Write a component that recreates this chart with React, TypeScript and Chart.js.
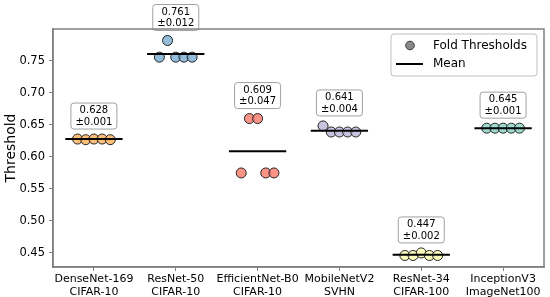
import React, { useEffect, useRef } from "react";
import { Chart, registerables } from "chart.js";

Chart.register(...registerables);

const modelNames = ["DenseNet-169", "ResNet-50", "EfficientNet-B0", "MobileNetV2", "ResNet-34", "InceptionV3"];
const datasetNames = ["CIFAR-10", "CIFAR-10", "CIFAR-10", "SVHN", "CIFAR-100", "ImageNet100"];
const colors = ["#fdb462", "#80b1d3", "#fb8072", "#bebada", "#ffffb3", "#8dd3c7"];

const denseNetFolds = [0.628, 0.627, 0.628, 0.628, 0.627];
const resNet50Folds = [0.756, 0.782, 0.756, 0.756, 0.756];
const efficientNetFolds = [0.575, 0.660, 0.660, 0.575, 0.575];
const mobileNetFolds = [0.6485, 0.639, 0.639, 0.639, 0.639];
const resNet34Folds = [0.446, 0.446, 0.450, 0.446, 0.446];
const inceptionFolds = [0.645, 0.645, 0.645, 0.645, 0.645];
const foldValues = [denseNetFolds, resNet50Folds, efficientNetFolds, mobileNetFolds, resNet34Folds, inceptionFolds];

const foldOffsets = [-0.2, -0.1, 0, 0.1, 0.2];
const means = [0.628, 0.761, 0.609, 0.641, 0.447, 0.645];
const stds = [0.001, 0.012, 0.047, 0.004, 0.002, 0.001];
const yTicks = [0.45, 0.5, 0.55, 0.6, 0.65, 0.7, 0.75];

const FONT = "'DejaVu Sans', sans-serif";
const SPINE = "#808080";

function alpha(hex: string, a: number) {
  const n = parseInt(hex.slice(1), 16);
  return `rgba(${(n >> 16) & 255},${(n >> 8) & 255},${n & 255},${a})`;
}

function roundRect(ctx: CanvasRenderingContext2D, x: number, y: number, w: number, h: number, r: number) {
  ctx.beginPath();
  ctx.moveTo(x + r, y);
  ctx.lineTo(x + w - r, y);
  ctx.quadraticCurveTo(x + w, y, x + w, y + r);
  ctx.lineTo(x + w, y + h - r);
  ctx.quadraticCurveTo(x + w, y + h, x + w - r, y + h);
  ctx.lineTo(x + r, y + h);
  ctx.quadraticCurveTo(x, y + h, x, y + h - r);
  ctx.lineTo(x, y + r);
  ctx.quadraticCurveTo(x, y, x + r, y);
  ctx.closePath();
}

const overlayPlugin = {
  id: "overlay",
  afterDatasetsDraw(chart: any) {
    const ctx = chart.ctx as CanvasRenderingContext2D;
    const xs = chart.scales.x;
    const ys = chart.scales.y;
    const area = chart.chartArea;
    ctx.save();
    // annotation boxes
    foldValues.forEach((vals, i) => {
      const cx = xs.getPixelForValue(i);
      const cy = ys.getPixelForValue(Math.max(...vals)) - 23;
      const w = 46;
      const h = 26;
      roundRect(ctx, cx - w / 2, cy - h / 2, w, h, 3);
      ctx.fillStyle = "rgba(255,255,255,0.9)";
      ctx.fill();
      ctx.strokeStyle = "#a0a0a0";
      ctx.lineWidth = 1;
      ctx.stroke();
      ctx.fillStyle = "#000";
      ctx.font = `10px ${FONT}`;
      ctx.textAlign = "center";
      ctx.textBaseline = "middle";
      ctx.fillText(means[i].toFixed(3), cx, cy - 5.5);
      ctx.fillText("±" + stds[i].toFixed(3), cx, cy + 6);
    });
    // legend
    const lx = area.right - 153;
    const ly = area.top + 5;
    const lw = 146;
    const lh = 42;
    roundRect(ctx, lx, ly, lw, lh, 3);
    ctx.fillStyle = "rgba(255,255,255,0.85)";
    ctx.fill();
    ctx.strokeStyle = "#c0c0c0";
    ctx.lineWidth = 1;
    ctx.stroke();
    ctx.beginPath();
    ctx.arc(lx + 19, ly + 11.5, 4.3, 0, Math.PI * 2);
    ctx.fillStyle = "#8a8a8a";
    ctx.fill();
    ctx.strokeStyle = "#333";
    ctx.stroke();
    ctx.beginPath();
    ctx.moveTo(lx + 5, ly + 30);
    ctx.lineTo(lx + 32, ly + 30);
    ctx.strokeStyle = "#000";
    ctx.lineWidth = 2;
    ctx.stroke();
    ctx.fillStyle = "#000";
    ctx.font = `12px ${FONT}`;
    ctx.textAlign = "left";
    ctx.textBaseline = "middle";
    ctx.fillText("Fold Thresholds", lx + 42, ly + 11.5);
    ctx.fillText("Mean", lx + 42, ly + 30);
    // frame
    ctx.strokeStyle = SPINE;
    ctx.lineWidth = 1.5;
    ctx.strokeRect(area.left, area.top, area.right - area.left, area.bottom - area.top);
    ctx.restore();
  },
};

export default function App() {
  const ref = useRef<HTMLCanvasElement>(null);
  useEffect(() => {
    document.body.style.margin = "0";
    const datasets: any[] = [];
    foldValues.forEach((vals, i) => {
      datasets.push({
        type: "line",
        data: [
          { x: i - 0.35, y: means[i] },
          { x: i + 0.35, y: means[i] },
        ],
        borderColor: "#000",
        borderWidth: 2,
        pointRadius: 0,
        order: 0,
      });
      datasets.push({
        type: "scatter",
        data: vals.map((v, j) => ({ x: i + foldOffsets[j], y: v })),
        backgroundColor: alpha(colors[i], 0.85),
        borderColor: "#222",
        borderWidth: 1,
        pointRadius: 5,
        order: 1,
      });
    });
    const chart = new Chart(ref.current!, {
      type: "scatter",
      data: { datasets },
      options: {
        animation: false,
        responsive: false,
        devicePixelRatio: 1,
        layout: { padding: { top: 29, right: 4, left: 0, bottom: 0 } },
        plugins: { legend: { display: false }, tooltip: { enabled: false } },
        scales: {
          x: {
            type: "linear",
            min: -0.5,
            max: 5.5,
            afterBuildTicks: (s: any) => {
              s.ticks = modelNames.map((_, i) => ({ value: i }));
            },
            afterFit: (s: any) => {
              s.height = 30;
            },
            ticks: {
              autoSkip: false,
              maxRotation: 0,
              padding: 2,
              color: "#000",
              font: { family: FONT, size: 11, lineHeight: 1.15 },
              callback: (v: any) => [modelNames[v], datasetNames[v]],
            },
            grid: { drawOnChartArea: false, drawTicks: true, tickLength: 4, color: SPINE },
            border: { display: true, color: SPINE, width: 1.5 },
          },
          y: {
            type: "linear",
            min: 0.428,
            max: 0.8,
            afterBuildTicks: (s: any) => {
              s.ticks = yTicks.map((v) => ({ value: v }));
            },
            afterFit: (s: any) => {
              s.width = 53;
            },
            ticks: {
              padding: 4,
              color: "#000",
              font: { family: FONT, size: 11.5 },
              callback: (v: any) => Number(v).toFixed(2),
            },
            grid: { drawOnChartArea: false, drawTicks: true, tickLength: 4, color: SPINE },
            border: { display: true, color: SPINE, width: 1.5 },
            title: {
              display: true,
              text: "Threshold",
              color: "#000",
              font: { family: FONT, size: 14 },
              padding: { top: 3, bottom: 0 },
            },
          },
        },
      },
      plugins: [overlayPlugin],
    } as any);
    return () => chart.destroy();
  }, []);
  return (
    <div style={{ width: 550, height: 297 }}>
      <canvas ref={ref} width={550} height={297} />
    </div>
  );
}
